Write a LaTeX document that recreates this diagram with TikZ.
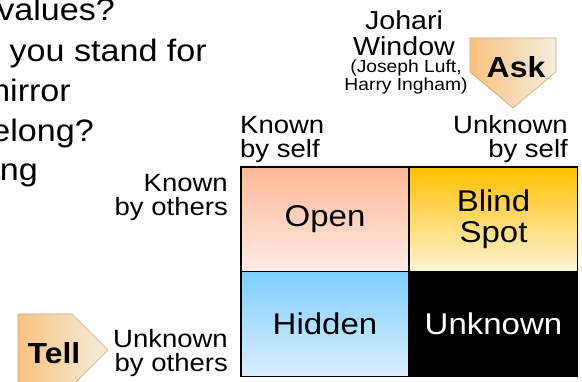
\documentclass[tikz,border=0pt]{standalone}
\usepackage{fontspec}
\setmainfont{Liberation Sans}[FakeStretch=1.1]
\definecolor{openT}{HTML}{FFB896}
\definecolor{openB}{HTML}{FFEBE6}
\definecolor{blindT}{HTML}{FFC000}
\definecolor{blindB}{HTML}{FFF4D8}
\definecolor{hidT}{HTML}{7DCFFF}
\definecolor{hidB}{HTML}{DDEEFF}
\definecolor{tagL}{HTML}{F9C27F}
\definecolor{tagR}{HTML}{F6EEDD}
\definecolor{tagline}{HTML}{C4A882}
\begin{document}
\begin{tikzpicture}[x=1pt,y=-1pt,
  lbl/.style={inner sep=0pt, font=\fontsize{25}{24}\selectfont},
  cell/.style={draw=black, line width=1.5pt, minimum width=168pt, minimum height=105pt, inner sep=0pt, font=\fontsize{30}{31}\selectfont, align=center},
  qtext/.style={anchor=base east, inner sep=0pt, font=\fontsize{31}{40}\selectfont},
  tag/.style={draw=tagline, line width=0.6pt, left color=tagL, right color=tagR},
  tagtext/.style={inner sep=0pt, anchor=base, font=\fontsize{29}{30}\selectfont\bfseries}]
\useasboundingbox (0,0) rectangle (582,381);
\clip (0,0) rectangle (582,381);
% clipped question text on the left
\node[qtext] (q1) at (115,20) {values?};
\node[qtext] (q2) at (207,61) {do you stand for};
\node[qtext] (q3) at (71,101) {mirror};
\node[qtext] (q4) at (94,141) {belong?};
\node[qtext] (q5) at (38,180) {ng};
% window cells
\node[cell, top color=openT, bottom color=openB] (open) at (325,219.5) {Open};
\node[cell, top color=blindT, bottom color=blindB] (blind) at (493.5,219.5) {Blind\\Spot};
\node[cell, top color=hidT, bottom color=hidB] (hidden) at (325,324) {Hidden};
\node[cell, fill=black, text=white] (unknown) at (493.5,324) {Unknown};
% axis labels (base anchor = last line)
\node[lbl, anchor=base west, align=left] (ks) at (240,157) {Known\\by self};
\node[lbl, anchor=base east, align=right] (us) at (568,157) {Unknown\\by self};
\node[lbl, anchor=base east, align=right] (ko) at (228,215) {Known\\by others};
\node[lbl, anchor=base east, align=right] (uo) at (228,371) {Unknown\\by others};
% title
\node[inner sep=0pt, anchor=base, align=center, font=\fontsize{26}{26}\selectfont] (title) at (404,55) {Johari\\Window};
\node[inner sep=0pt, anchor=base, align=center, font=\fontsize{17.5}{16}\selectfont] (authors) at (406,90) {(Joseph Luft,\\Harry Ingham)};
% Ask tag
\shade[tag] (470,38) -- (556,38) -- (556,72) -- (513,108) -- (470,72) -- cycle;
\node[tagtext] (ask) at (516,77) {Ask};
% Tell tag
\shade[tag] (18,314) -- (72,314) -- (108,350) -- (72,386) -- (18,386) -- cycle;
\node[tagtext] (tell) at (54,363) {Tell};
\end{tikzpicture}
\end{document}
